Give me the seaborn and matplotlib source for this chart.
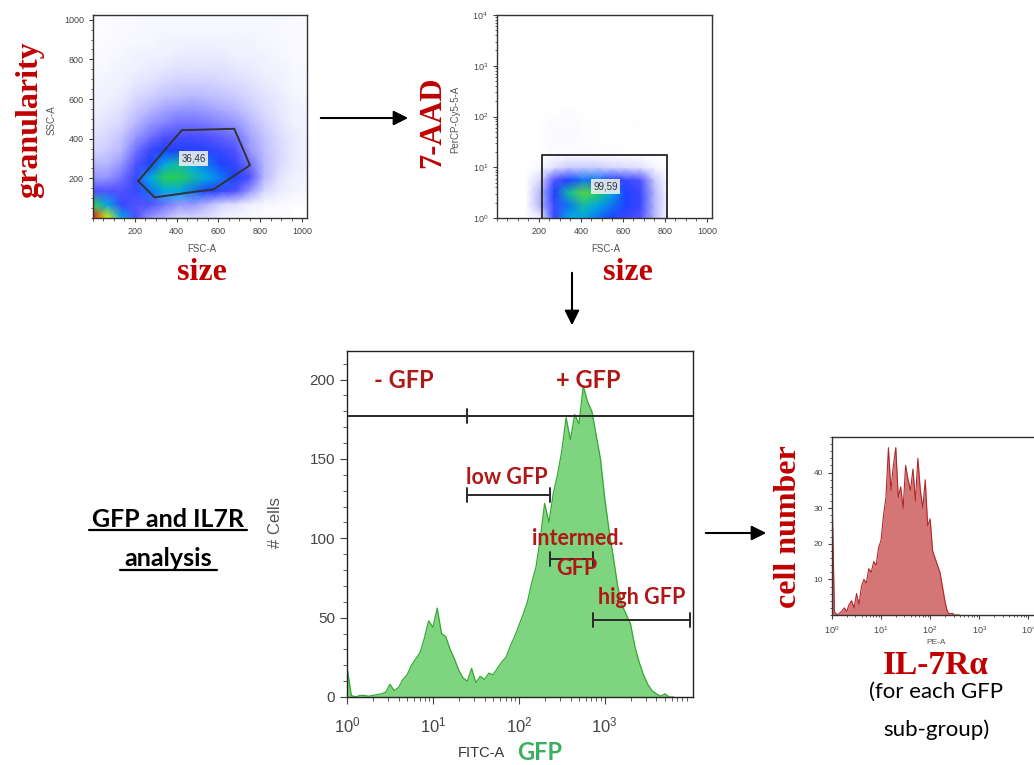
import numpy as np
import matplotlib
matplotlib.use("Agg")
import matplotlib.pyplot as plt
import seaborn as sns
from matplotlib.colors import LinearSegmentedColormap
from matplotlib.ticker import MultipleLocator, LogLocator, NullFormatter, FixedLocator

# ---------------- data ----------------
# panel 1: FSC-A vs SSC-A density (rows = SSC nodes bottom->top, cols = FSC nodes)
scatter_nodes = np.linspace(0, 1024, 16)
fsc_ssc_density = [
    [10, 8, 5, 3, 2, 1.5, 1, 1, 0.8, 0.5, 0.3, 0.2, 0.1, 0.1, 0, 0],
    [6, 5, 3.5, 3, 3, 2.5, 2, 2, 1.5, 1, 0.8, 0.5, 0.3, 0.2, 0.1, 0.1],
    [3, 3, 3, 3.5, 4.5, 5, 5, 4.5, 4, 3.5, 3, 2, 1, 0.6, 0.4, 0.3],
    [2, 2, 2.5, 3.5, 5, 6, 6, 5.5, 5, 4.5, 4, 3, 1.5, 0.8, 0.5, 0.4],
    [1.5, 1.5, 2, 3, 4, 5, 5.5, 5, 4.5, 4, 3.5, 2.5, 1.5, 1, 0.6, 0.5],
    [1, 1.2, 1.5, 2.5, 3.5, 4, 4, 4, 3.8, 3.5, 3, 2, 1.4, 1, 0.6, 0.5],
    [0.8, 1, 1.3, 2, 2.5, 3, 3.2, 3.2, 3, 2.8, 2.5, 1.8, 1.3, 0.9, 0.6, 0.5],
    [0.6, 0.8, 1, 1.5, 2, 2.3, 2.5, 2.5, 2.4, 2.2, 2, 1.5, 1.1, 0.8, 0.5, 0.4],
    [0.5, 0.6, 0.8, 1.2, 1.5, 1.8, 2, 2, 1.9, 1.7, 1.5, 1.2, 0.9, 0.7, 0.5, 0.4],
    [0.4, 0.5, 0.6, 0.9, 1.1, 1.3, 1.4, 1.5, 1.4, 1.3, 1.2, 1, 0.8, 0.6, 0.4, 0.3],
    [0.3, 0.4, 0.5, 0.7, 0.8, 1, 1.1, 1.1, 1.1, 1, 0.9, 0.8, 0.6, 0.5, 0.3, 0.3],
    [0.2, 0.3, 0.4, 0.5, 0.6, 0.7, 0.8, 0.8, 0.8, 0.8, 0.7, 0.6, 0.5, 0.4, 0.3, 0.2],
    [0.2, 0.2, 0.3, 0.4, 0.5, 0.5, 0.6, 0.6, 0.6, 0.6, 0.5, 0.5, 0.4, 0.3, 0.2, 0.2],
    [0.1, 0.2, 0.2, 0.3, 0.3, 0.4, 0.4, 0.5, 0.5, 0.4, 0.4, 0.4, 0.3, 0.3, 0.2, 0.2],
    [0.1, 0.1, 0.2, 0.2, 0.3, 0.3, 0.3, 0.3, 0.3, 0.3, 0.3, 0.3, 0.3, 0.2, 0.2, 0.2],
    [0.2, 0.2, 0.2, 0.2, 0.3, 0.3, 0.3, 0.3, 0.3, 0.3, 0.3, 0.3, 0.3, 0.3, 0.2, 0.2],
]
gate1_fsc = [216, 425, 676, 751, 576, 513, 295, 216]
gate1_ssc = [186, 443, 450, 266, 144, 136, 104, 186]
gate1_label = "36,46"

# panel 2: FSC-A vs PerCP-Cy5-5-A (log10 nodes)
percp_log_nodes = [0, 0.25, 0.5, 0.75, 1.0, 1.25, 1.5, 1.75, 2.0, 2.25]
fsc_percp_density = [
    [0, 0, 0, 0.5, 3.5, 5, 5, 4.5, 4, 3.5, 3, 1.5, 0, 0, 0, 0],
    [0, 0, 0, 1.5, 3.5, 4.5, 5.5, 5, 4.5, 4, 3.5, 1.5, 0, 0, 0, 0],
    [0, 0, 0, 1.5, 4, 5.5, 6.5, 6, 5, 4, 3.5, 1.5, 0, 0, 0, 0],
    [0, 0, 0, 1, 3, 4, 4.5, 4.5, 4, 3.5, 3, 1.2, 0, 0, 0, 0],
    [0, 0, 0, 0.2, 0.8, 1.2, 1.2, 1.2, 1, 0.9, 0.8, 0.3, 0, 0, 0, 0],
    [0, 0, 0, 0, 0.15, 0.15, 0.15, 0.1, 0.1, 0.05, 0.05, 0, 0, 0, 0, 0],
    [0, 0, 0, 0, 0.2, 0.2, 0.1, 0.05, 0.05, 0, 0, 0, 0, 0, 0, 0],
    [0, 0, 0, 0, 0.2, 0.2, 0.1, 0.05, 0.05, 0.05, 0, 0, 0, 0, 0, 0],
    [0, 0, 0, 0, 0.1, 0.15, 0.05, 0.05, 0.05, 0.05, 0.05, 0, 0, 0, 0, 0],
    [0] * 16,
]
gate2_fsc = [213, 213, 811, 811]
gate2_percp = [1, 17.6, 17.6, 1]
gate2_label = "99,59"

# panel 3: GFP histogram, channels every 0.05 decade from 10^0
gfp_log_start, gfp_log_step = 0.0, 0.05
gfp_counts = [19, 1, 0, 1, 1, 0.5, 1, 1.5, 2, 3, 8, 4, 6, 11, 14, 20, 24, 28, 37, 48,
              44, 56, 40, 38, 30, 24, 17, 12, 10, 18, 9, 13, 11, 15, 14, 18, 22, 25, 32, 38,
              45, 52, 60, 72, 82, 100, 122, 110, 128, 140, 155, 176, 162, 178, 172, 196, 186, 180, 165, 150,
              125, 105, 88, 70, 58, 52, 46, 32, 22, 14, 8, 4, 2, 0.5, 2, 0, 0]
gfp_gate_lo = [25, 230, 738]
gfp_gate_hi = [230, 738, 9910]
gfp_gate_y = [127.4, 87.1, 48.3]
pos_neg_split = 25
pos_neg_y = 177

# panel 4: IL-7Ralpha (PE-A) histogram, channels every 0.05 decade
pe_log_start, pe_log_step = 0.0, 0.05
pe_counts = [34, 1, 0, 0.5, 1, 2, 1, 3, 4, 2, 6, 3, 8, 10, 9, 13, 12, 15, 14, 19,
             21, 28, 33, 47, 35, 42, 47, 33, 36, 30, 42, 38, 35, 41, 32, 44, 35, 30, 38, 25,
             27, 18, 16, 14, 12, 8, 4, 1, 0.3, 0.5, 0, 0, 0]

# ---------------- style ----------------
sns.set_style("ticks")
plt.rcParams["font.family"] = ["Liberation Sans", "DejaVu Sans"]
plt.rcParams["mathtext.fontset"] = "custom"
plt.rcParams["mathtext.rm"] = "Liberation Sans"
plt.rcParams["mathtext.it"] = "Liberation Sans:italic"

W, H = 1034, 765
RED = "#c00000"
ANN = "#b01818"
TICK_C = "#444444"
SERIF = dict(family="Liberation Serif", weight="bold", color=RED)

density_cmap = LinearSegmentedColormap.from_list("flowjo", [
    (0.0, "#ffffff"), (0.05, "#f0f0ff"), (0.1, "#d6d6ff"), (0.2, "#9696ff"),
    (0.3, "#5050ff"), (0.4, "#2040ff"), (0.5, "#00a8e8"), (0.6, "#28cc58"),
    (0.8, "#e0f000"), (0.9, "#ffa000"), (1.0, "#ff1000")])


def rect(l, t, r, b):
    return [l / W, 1 - b / H, (r - l) / W, (b - t) / H]


def ftext(x, y, s, **kw):
    fig.text(x / W, 1 - y / H, s, **kw)


def arrow(x0, y0, x1, y1):
    fig.add_artist(matplotlib.patches.FancyArrowPatch(
        (x0 / W, 1 - y0 / H), (x1 / W, 1 - y1 / H), transform=fig.transFigure,
        arrowstyle="-|>", mutation_scale=22, lw=1.5, color="black"))


def style_axes(ax, size, major, minor, spine_c="#333333"):
    for s in ax.spines.values():
        s.set_color(spine_c)
        s.set_linewidth(1.0)
    ax.tick_params(which="major", direction="out", length=major, width=0.8,
                   colors=TICK_C, labelsize=size, labelcolor=TICK_C)
    ax.tick_params(which="minor", direction="out", length=minor, width=0.6, colors=TICK_C)


fig = plt.figure(figsize=(W / 100, H / 100), dpi=100)

# ---- panel 1 ----
ax1 = fig.add_axes(rect(93, 15, 307, 218))
ax1.pcolormesh(scatter_nodes, scatter_nodes, np.array(fsc_ssc_density),
               shading="gouraud", cmap=density_cmap, vmin=0, vmax=10)
sns.lineplot(x=gate1_fsc, y=gate1_ssc, sort=False, estimator=None, ax=ax1,
             color="#333333", lw=1.4)
ax1.text(481, 300, gate1_label, fontsize=7, color="#333333", ha="center", va="center",
         bbox=dict(boxstyle="square,pad=0.25", fc="#e9eef0", ec="none", alpha=0.9))
ax1.set_xlim(0, 1024)
ax1.set_ylim(0, 1024)
ax1.set_xticks([200, 400, 600, 800, 1000])
ax1.set_yticks([200, 400, 600, 800, 1000])
ax1.xaxis.set_minor_locator(MultipleLocator(50))
ax1.yaxis.set_minor_locator(MultipleLocator(50))
style_axes(ax1, 6.5, 3, 1.8)
ax1.set_xlabel("")
ax1.set_ylabel("")

# ---- panel 2 ----
ax2 = fig.add_axes(rect(497, 15, 712, 218))
ax2.set_yscale("log")
ax2.pcolormesh(scatter_nodes, 10 ** np.array(percp_log_nodes), np.array(fsc_percp_density),
               shading="gouraud", cmap=density_cmap, vmin=0, vmax=10)
sns.lineplot(x=gate2_fsc, y=gate2_percp, sort=False, estimator=None, ax=ax2,
             color="#333333", lw=1.4)
ax2.text(517, 4.2, gate2_label, fontsize=7, color="#333333", ha="center", va="center",
         bbox=dict(boxstyle="square,pad=0.25", fc="#e9eef0", ec="none", alpha=0.9))
ax2.set_xlim(0, 1024)
ax2.set_ylim(1, 1e4)
ax2.set_xticks([200, 400, 600, 800, 1000])
ax2.xaxis.set_minor_locator(MultipleLocator(50))
ax2.yaxis.set_major_locator(FixedLocator([1, 10, 100, 1000, 10000]))
ax2.yaxis.set_minor_locator(LogLocator(base=10, subs=np.arange(2, 10)))
ax2.yaxis.set_minor_formatter(NullFormatter())
style_axes(ax2, 6.5, 3, 1.8)
ax2.set_xlabel("")
ax2.set_ylabel("")

# ---- panel 3 ----
ax3 = fig.add_axes(rect(347, 351, 693, 697))
ax3.set_xscale("log")
fitc = 10 ** (gfp_log_start + gfp_log_step * np.arange(len(gfp_counts)))
ax3.fill_between(fitc, gfp_counts, color="#7fd47f", lw=0)
sns.lineplot(x=fitc, y=gfp_counts, ax=ax3, color="#33a833", lw=0.9)
ax3.set_xlim(1, 10 ** 4.027)
ax3.set_ylim(0, 218)
ax3.xaxis.set_major_locator(FixedLocator([1, 10, 100, 1000]))
ax3.xaxis.set_minor_locator(LogLocator(base=10, subs=np.arange(2, 10)))
ax3.xaxis.set_minor_formatter(NullFormatter())
ax3.set_yticks([0, 50, 100, 150, 200])
ax3.yaxis.set_minor_locator(MultipleLocator(10))
style_axes(ax3, 11, 5, 2.8, spine_c="#222222")
ax3.tick_params(axis="x", which="major", labelsize=12, pad=8)
ax3.set_xlabel("")
ax3.set_ylabel("")

gate_kw = dict(color="#2a2a2a", lw=1.4)
ax3.plot([1, 10 ** 4.027], [pos_neg_y, pos_neg_y], **gate_kw)
ax3.plot([pos_neg_split, pos_neg_split], [pos_neg_y - 4.5, pos_neg_y + 4.5], **gate_kw)
for lo, hi, y in zip(gfp_gate_lo, gfp_gate_hi, gfp_gate_y):
    ax3.plot([lo, hi], [y, y], **gate_kw)
    ax3.plot([lo, lo], [y - 4.5, y + 4.5], **gate_kw)
    ax3.plot([hi, hi], [y - 4.5, y + 4.5], **gate_kw)

ann = dict(family=["Lato", "DejaVu Sans"], weight="bold", color=ANN, ha="center", va="center")
ax3.text(4.55, 199.4, "- GFP", fontsize=17, **ann)
ax3.text(645, 199.4, "+ GFP", fontsize=17, **ann)
ax3.text(71.8, 138.5, "low GFP", fontsize=15.5, **ann)
ax3.text(480, 99.7, "intermed.", fontsize=15.5, **ann)
ax3.text(471, 80.8, "GFP", fontsize=15.5, **ann)
ax3.text(2704, 62.5, "high GFP", fontsize=15.5, **ann)

# ---- panel 4 ----
ax4 = fig.add_axes(rect(832, 437, 1043, 615))
ax4.set_xscale("log")
pe = 10 ** (pe_log_start + pe_log_step * np.arange(len(pe_counts)))
ax4.fill_between(pe, pe_counts, color="#d47676", lw=0)
sns.lineplot(x=pe, y=pe_counts, ax=ax4, color="#b0282c", lw=0.8)
ax4.set_xlim(1, 10 ** 4.3)
ax4.set_ylim(0, 50)
ax4.xaxis.set_major_locator(FixedLocator([1, 10, 100, 1000, 10000]))
ax4.xaxis.set_minor_locator(LogLocator(base=10, subs=np.arange(2, 10)))
ax4.xaxis.set_minor_formatter(NullFormatter())
ax4.set_yticks([10, 20, 30, 40])
ax4.yaxis.set_minor_locator(MultipleLocator(2))
style_axes(ax4, 6, 3, 1.6)
ax4.tick_params(axis="x", which="major", labelsize=6.5)
ax4.set_xlabel("")
ax4.set_ylabel("")

# ---- figure texts ----
small = dict(color="#555555", ha="center", va="center")
ftext(52, 120, "SSC-A", fontsize=7, rotation=90, **small)
ftext(202, 249, "FSC-A", fontsize=7, **small)
ftext(455, 119, "PerCP-Cy5-5-A", fontsize=7, rotation=90, **small)
ftext(606, 249, "FSC-A", fontsize=7, **small)
ftext(275, 523, "# Cells", fontsize=12, rotation=90, **small)
ftext(481, 753, "FITC-A", fontsize=10.5, color="#333333", ha="center", va="center")
ftext(540, 753, "GFP", fontsize=17, family=["Lato", "DejaVu Sans"], weight="bold",
      color="#3cb060", ha="center", va="center")
ftext(936, 642, "PE-A", fontsize=6, **small)

ftext(30, 120, "granularity", fontsize=23, rotation=90, ha="center", va="center", **SERIF)
ftext(202, 272, "size", fontsize=23, ha="center", va="center", **SERIF)
ftext(433, 122, "7-AAD", fontsize=22, rotation=90, ha="center", va="center", **SERIF)
ftext(628, 272, "size", fontsize=23, ha="center", va="center", **SERIF)
ftext(788, 527, "cell number", fontsize=23, rotation=90, ha="center", va="center", **SERIF)
ftext(936, 666, "IL-7Rα", fontsize=24, ha="center", va="center", **SERIF)

body = dict(family=["Lato", "DejaVu Sans"], color="black", ha="center")
ftext(936, 692, "(for each GFP", fontsize=16, va="center", **body)
ftext(936, 730, "sub-group)", fontsize=16, va="center", **body)
ftext(168, 527, "GFP and IL7R", fontsize=18, weight="bold", va="baseline", **body)
ftext(168, 566, "analysis", fontsize=18, weight="bold", va="baseline", **body)
for x0, x1, y in [(89, 247, 530), (120, 217, 570)]:
    fig.add_artist(matplotlib.lines.Line2D([x0 / W, x1 / W], [1 - y / H, 1 - y / H],
                                           transform=fig.transFigure, color="black", lw=1.6))

arrow(318, 118, 411, 118)
arrow(572, 270, 572, 328)
arrow(703, 533, 769, 533)

fig.savefig("out.png", dpi=100)
